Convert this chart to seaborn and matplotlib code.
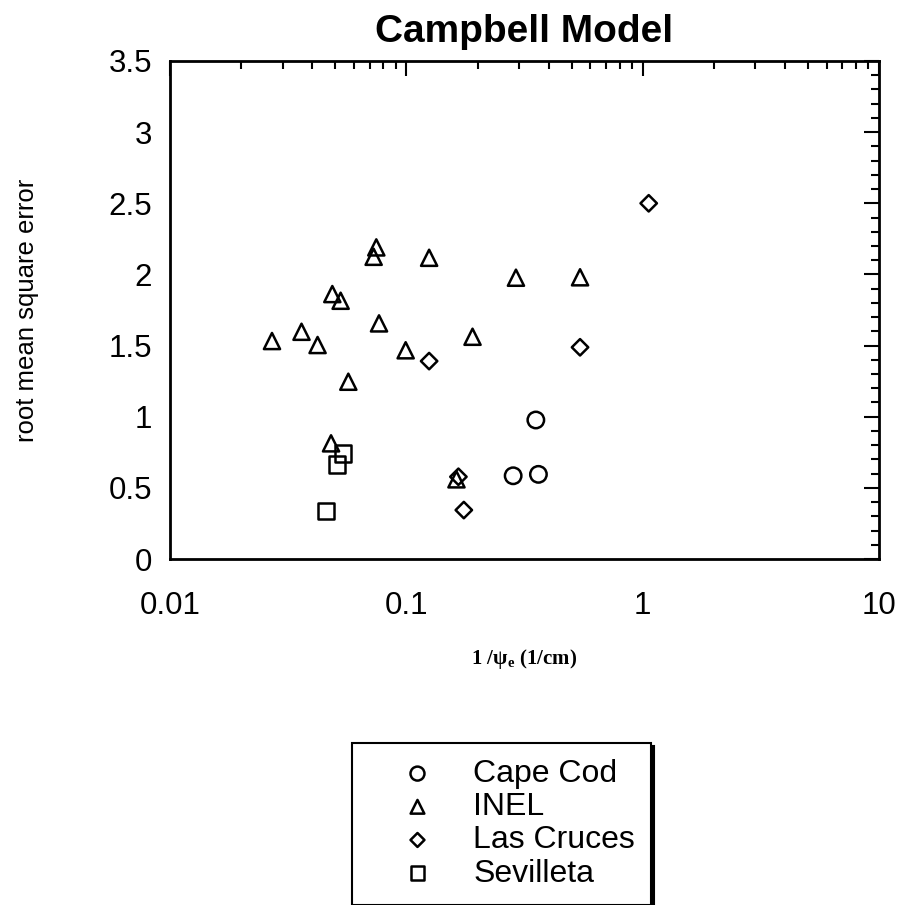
import numpy as np
import pandas as pd
import matplotlib
matplotlib.use("Agg")
import matplotlib.pyplot as plt
import seaborn as sns
from matplotlib.ticker import FixedLocator, FixedFormatter, MultipleLocator, LogLocator, NullFormatter

# ---- data ----
cape_cod_x = [0.353, 0.283, 0.362]
cape_cod_y = [0.977, 0.585, 0.595]
inel_x = [0.027, 0.036, 0.0421, 0.0486, 0.0527, 0.0746, 0.0727, 0.1248,
          0.0766, 0.0993, 0.0568, 0.048, 0.1905, 0.2908, 0.1629, 0.543]
inel_y = [1.532, 1.597, 1.504, 1.862, 1.815, 2.19, 2.124, 2.117,
          1.656, 1.467, 1.246, 0.813, 1.562, 1.977, 0.56, 1.98]
las_cruces_x = [0.1248, 0.175, 0.166, 1.06, 0.543]
las_cruces_y = [1.391, 0.344, 0.578, 2.50, 1.488]
sevilleta_x = [0.0458, 0.0539, 0.0508]
sevilleta_y = [0.337, 0.743, 0.665]

site_names = ["Cape Cod", "INEL", "Las Cruces", "Sevilleta"]
x_ticks = [0.01, 0.1, 1, 10]
x_tick_labels = ["0.01", "0.1", "1", "10"]
y_ticks = [0, 0.5, 1, 1.5, 2, 2.5, 3, 3.5]
y_tick_labels = ["0", "0.5", "1", "1.5", "2", "2.5", "3", "3.5"]

df = pd.concat([
    pd.DataFrame({"x": cape_cod_x, "y": cape_cod_y, "site": site_names[0]}),
    pd.DataFrame({"x": inel_x, "y": inel_y, "site": site_names[1]}),
    pd.DataFrame({"x": las_cruces_x, "y": las_cruces_y, "site": site_names[2]}),
    pd.DataFrame({"x": sevilleta_x, "y": sevilleta_y, "site": site_names[3]}),
], ignore_index=True)

sns.set_style("white")
plt.rcParams["font.family"] = ["Liberation Sans", "DejaVu Sans"]
plt.rcParams["text.color"] = "black"
plt.rcParams["axes.labelcolor"] = "black"
plt.rcParams["xtick.color"] = "black"
plt.rcParams["ytick.color"] = "black"

fig = plt.figure(figsize=(9.03, 9.05), dpi=100)
ax = fig.add_axes([0.1883, 0.3823, 0.7852, 0.5503])

styles = {
    "Cape Cod": dict(marker="o", s=140),
    "INEL": dict(marker="^", s=135),
    "Las Cruces": dict(marker="D", s=70),
    "Sevilleta": dict(marker="s", s=140),
}
for site in site_names:
    sub = df[df["site"] == site]
    sns.scatterplot(data=sub, x="x", y="y", ax=ax, facecolor="none",
                    edgecolor="black", linewidth=1.8, label=site, legend=False,
                    **styles[site])

ax.set_xscale("log")
ax.set_xlim(0.01, 10)
ax.set_ylim(0, 3.5)
ax.xaxis.set_major_locator(FixedLocator(x_ticks))
ax.xaxis.set_major_formatter(FixedFormatter(x_tick_labels))
ax.xaxis.set_minor_locator(LogLocator(base=10, subs=np.arange(2, 10)))
ax.xaxis.set_minor_formatter(NullFormatter())
ax.yaxis.set_major_locator(FixedLocator(y_ticks))
ax.yaxis.set_major_formatter(FixedFormatter(y_tick_labels))
ax.yaxis.set_minor_locator(MultipleLocator(0.1))

ax.tick_params(which="both", direction="in", top=True, right=True,
               width=1.5, color="black", labelsize=22.5, labelcolor="black")
ax.tick_params(which="major", length=11)
ax.tick_params(which="minor", length=6)
ax.tick_params(axis="y", which="major", pad=13)
ax.tick_params(axis="x", which="major", pad=23)
for sp in ax.spines.values():
    sp.set_visible(True)
    sp.set_color("black")
    sp.set_linewidth(2)

ax.set_title("Campbell Model", fontsize=28, fontweight="bold", pad=14)
ax.set_ylabel("root mean square error", fontsize=18.5, labelpad=50)
ax.set_xlabel(r"1 /ψ$_\mathregular{e}$ (1/cm)", fontsize=15, fontweight="bold",
              family=["Liberation Serif", "DejaVu Serif"], labelpad=19)

handles, labels = ax.get_legend_handles_labels()
leg = fig.legend(handles, labels, loc="upper left",
                 bbox_to_anchor=(352 / 903, 1 - 743 / 905),
                 borderaxespad=0, fontsize=23, frameon=True, fancybox=False,
                 edgecolor="black", handlelength=3.1, handletextpad=0.2,
                 borderpad=0.5, labelspacing=0.1, markerscale=0.85,
                 shadow={"color": "black", "alpha": 1})
leg.get_frame().set_linewidth(1.5)

fig.savefig("out.png", dpi=100)
